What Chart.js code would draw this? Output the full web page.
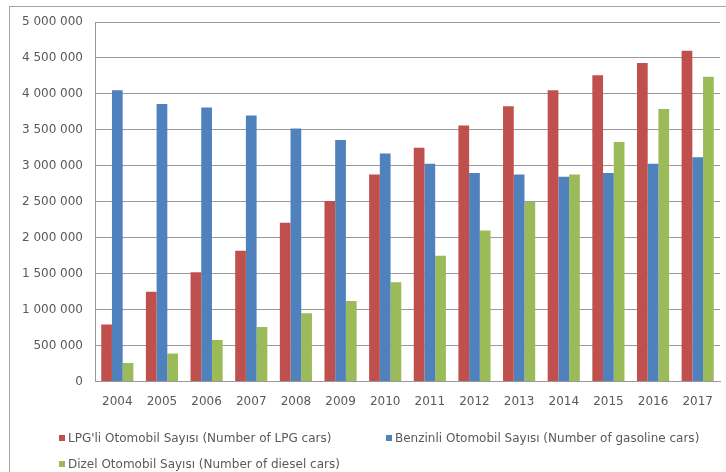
<!DOCTYPE html>
<html lang="tr">
<head>
  <meta charset="UTF-8">
  <title>Otomobil Sayısı</title>
  <script src="https://cdn.jsdelivr.net/npm/chart.js"></script>
  <style>
    html, body { margin: 0; padding: 0; background: #fff; overflow: hidden; }
    #wrap { position: relative; width: 726px; height: 472px; }
    #frame { position: absolute; left: 9px; top: 6px; width: 800px; height: 600px; border: 1px solid #a6a6a6; box-sizing: border-box; }
    #chartBox { position: absolute; left: 0; top: 0; width: 726px; height: 472px; }
    .legendItem { position: absolute; font: 12px "DejaVu Sans"; color: #595959; white-space: nowrap; line-height: 14px; }
    .legendItem span { display: inline-block; width: 6px; height: 6px; margin-right: 3px; vertical-align: 1px; }
  </style>
</head>
<body>
  <div id="wrap">
    <div id="frame"></div>
    <div id="chartBox"><canvas id="carChart"></canvas></div>
    <div id="legend"></div>
  </div>

  <script>
    const years = ['2004', '2005', '2006', '2007', '2008', '2009', '2010', '2011', '2012', '2013', '2014', '2015', '2016', '2017'];
    const lpgCars = [795000, 1250000, 1520000, 1820000, 2210000, 2510000, 2880000, 3250000, 3560000, 3830000, 4050000, 4260000, 4430000, 4600000];
    const gasolineCars = [4050000, 3860000, 3810000, 3700000, 3520000, 3360000, 3170000, 3030000, 2900000, 2880000, 2850000, 2900000, 3030000, 3120000];
    const dieselCars = [260000, 390000, 580000, 760000, 950000, 1120000, 1380000, 1750000, 2100000, 2500000, 2880000, 3330000, 3790000, 4240000];
    const seriesLabels = [
      "LPG'li Otomobil Sayısı (Number of LPG cars)",
      'Benzinli Otomobil Sayısı (Number of gasoline cars)',
      'Dizel Otomobil Sayısı (Number of diesel cars)'
    ];

    const colors = ['#c0504d', '#4f81bd', '#9bbb59'];
    const textColor = '#595959';
    const font = { family: 'DejaVu Sans', size: 12 };

    function spaced(v) {
      return String(v).replace(/\B(?=(\d{3})+(?!\d))/g, ' ');
    }

    const ctx = document.getElementById('carChart').getContext('2d');
    const chart = new Chart(ctx, {
      type: 'bar',
      data: {
        labels: years,
        datasets: [lpgCars, gasolineCars, dieselCars].map((d, i) => ({
          label: seriesLabels[i],
          data: d,
          backgroundColor: colors[i],
          borderWidth: 0,
          categoryPercentage: 0.72,
          barPercentage: 1
        }))
      },
      options: {
        responsive: true,
        maintainAspectRatio: false,
        animation: false,
        layout: { padding: { top: 22, right: 1, bottom: 50, left: 0 } },
        plugins: {
          legend: { display: false },
          tooltip: { enabled: false }
        },
        scales: {
          x: {
            grid: { display: false, drawTicks: false },
            border: { color: '#999999' },
            ticks: { color: textColor, font: font, padding: 13, maxRotation: 0 }
          },
          y: {
            min: 0,
            max: 5000000,
            afterFit: (scale) => { scale.width = 95; },
            grid: { color: '#999999', drawTicks: false },
            border: { color: '#999999' },
            ticks: {
              stepSize: 500000,
              color: textColor,
              font: font,
              padding: 12,
              callback: (v) => spaced(v)
            }
          }
        }
      }
    });

    // legend laid out like the Excel original
    const legendSpots = [[59, 431], [386, 431], [59, 457]];
    const legend = document.getElementById('legend');
    seriesLabels.forEach((label, i) => {
      const item = document.createElement('div');
      item.className = 'legendItem';
      item.style.left = legendSpots[i][0] + 'px';
      item.style.top = legendSpots[i][1] + 'px';
      const box = document.createElement('span');
      box.style.background = colors[i];
      item.appendChild(box);
      item.appendChild(document.createTextNode(label));
      legend.appendChild(item);
    });
  </script>
</body>
</html>
